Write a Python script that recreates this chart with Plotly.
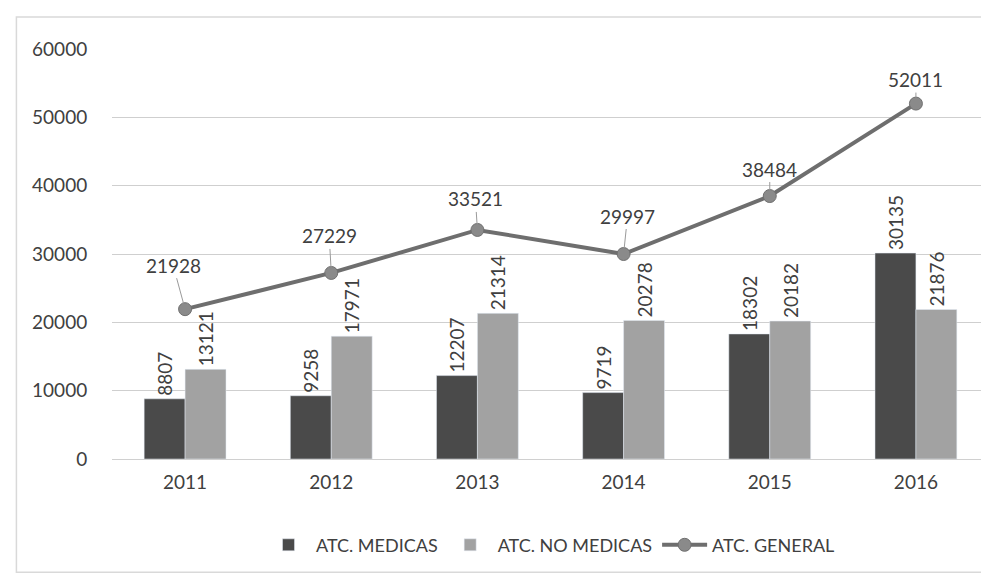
import plotly.graph_objects as go

years = ["2011", "2012", "2013", "2014", "2015", "2016"]
medicas = [8807, 9258, 12207, 9719, 18302, 30135]
no_medicas = [13121, 17971, 21314, 20278, 20182, 21876]
general = [21928, 27229, 33521, 29997, 38484, 52011]
y_ticks = [0, 10000, 20000, 30000, 40000, 50000, 60000]

FONT = "Lato"
TXT = "#404040"
NUM = 19

fig = go.Figure()
fig.add_trace(go.Bar(
    x=years, y=medicas, name="ATC. MEDICAS",
    marker=dict(color="#4a4a4a"),
    text=[str(v) for v in medicas], textposition="outside", textangle=-90,
    constraintext="none",
    textfont=dict(family=FONT, size=NUM, color=TXT), cliponaxis=False,
))
fig.add_trace(go.Bar(
    x=years, y=no_medicas, name="ATC. NO MEDICAS",
    marker=dict(color="#a2a2a2"),
    text=[str(v) for v in no_medicas], textposition="outside", textangle=-90,
    constraintext="none",
    textfont=dict(family=FONT, size=NUM, color=TXT), cliponaxis=False,
))
fig.add_trace(go.Scatter(
    x=years, y=general, name="ATC. GENERAL", mode="lines+markers",
    line=dict(color="#6e6e6e", width=4),
    marker=dict(color="#8a8a8a", size=13, line=dict(color="#707070", width=1)),
))

offsets = [(-12, -44), (-2, -37), (-2, -31), (4, -38), (0, -27), (0, -24)]
for i, (y, (ax, ay)) in enumerate(zip(general, offsets)):
    fig.add_annotation(
        x=i, y=y, xref="x", yref="y", text=str(y), showarrow=True, arrowhead=0,
        arrowcolor="#9a9a9a", arrowwidth=1, ax=ax, ay=ay, standoff=6,
        font=dict(family=FONT, size=NUM, color=TXT),
    )

fig.add_shape(type="rect", xref="paper", yref="paper",
              x0=-0.109, x1=0.998, y0=-0.276, y1=1.078,
              line=dict(color="#d9d9d9", width=1.5), fillcolor="rgba(0,0,0,0)")

fig.update_layout(
    width=989, height=573,
    margin=dict(l=104, r=8, t=41, b=122),
    paper_bgcolor="white", plot_bgcolor="white",
    barmode="group", bargap=0.44, bargroupgap=0,
    font=dict(family=FONT, size=16, color=TXT),
    showlegend=True,
    legend=dict(orientation="h", x=0.5, xanchor="center", y=-0.21, yanchor="middle",
                itemwidth=45, font=dict(family=FONT, size=18, color=TXT)),
    xaxis=dict(type="category", range=[-0.5, 5.5], autorange=False,
               showgrid=False, showline=True, linecolor="#d0d0d0", linewidth=1,
               ticks="outside", ticklen=6, tickcolor="rgba(0,0,0,0)",
               tickfont=dict(family=FONT, size=NUM, color=TXT)),
    yaxis=dict(range=[0, 60000], autorange=False, tickvals=y_ticks, tickformat="d",
               showgrid=True, gridcolor="#cfcfcf", gridwidth=1, zeroline=False, showline=False,
               ticks="outside", ticklen=20, tickcolor="rgba(0,0,0,0)",
               tickfont=dict(family=FONT, size=NUM, color=TXT)),
)

fig.write_html("out.html")
